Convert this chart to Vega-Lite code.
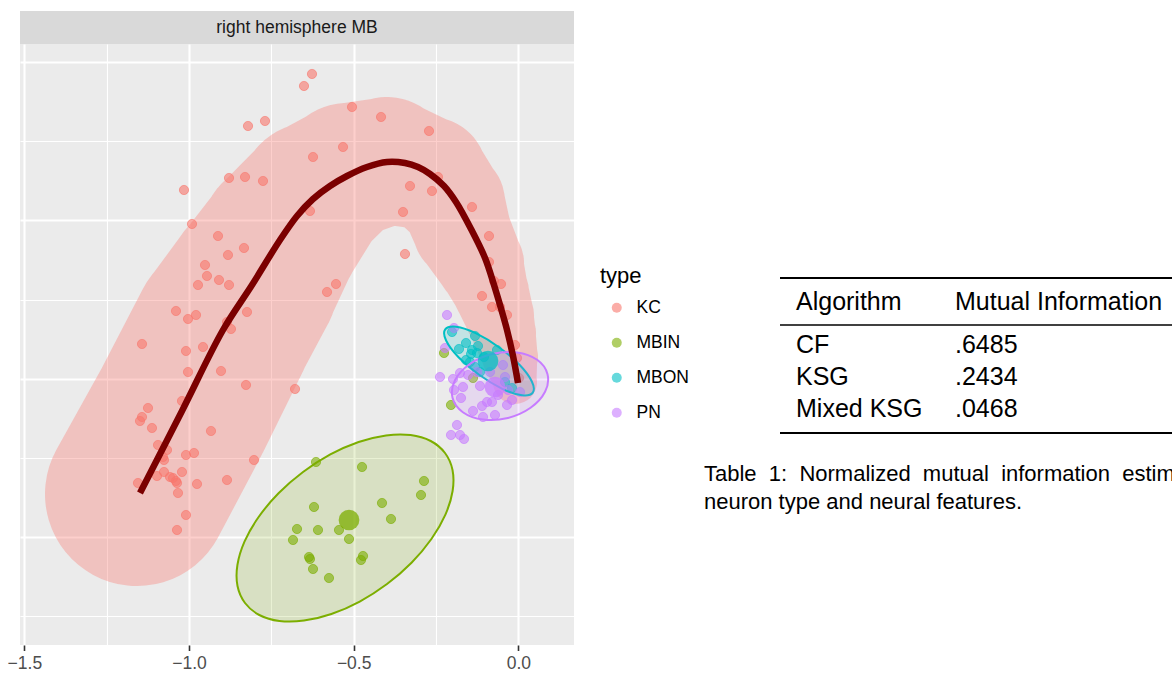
{
  "$schema": "https://vega.github.io/schema/vega-lite/v6.json",
  "background": "white",
  "padding": {"left": 7, "top": 11, "right": 0, "bottom": 0},
  "config": {"font": "Liberation Sans", "view": {"stroke": null}},
  "spacing": 130,
  "datasets": {
    "band": [
      {"i": 0, "x": -1.1579, "y": 0.2716, "spread": 1.1621},
      {"i": 1, "x": -1.0213, "y": 0.7958, "spread": 1.1495},
      {"i": 2, "x": -0.8968, "y": 1.3074, "spread": 1.1369},
      {"i": 3, "x": -0.8087, "y": 1.5979, "spread": 1.0863},
      {"i": 4, "x": -0.7237, "y": 1.8885, "spread": 1.0105},
      {"i": 5, "x": -0.6234, "y": 2.1537, "spread": 0.9348},
      {"i": 6, "x": -0.5202, "y": 2.3116, "spread": 0.859},
      {"i": 7, "x": -0.3987, "y": 2.3748, "spread": 0.8084},
      {"i": 8, "x": -0.2681, "y": 2.2927, "spread": 0.72},
      {"i": 9, "x": -0.1983, "y": 2.1158, "spread": 0.6569},
      {"i": 10, "x": -0.171, "y": 1.939, "spread": 0.619},
      {"i": 11, "x": -0.1163, "y": 1.7306, "spread": 0.5558},
      {"i": 12, "x": -0.0829, "y": 1.5474, "spread": 0.48},
      {"i": 13, "x": -0.0586, "y": 1.4021, "spread": 0.4421},
      {"i": 14, "x": -0.0434, "y": 1.2884, "spread": 0.4042},
      {"i": 15, "x": -0.0252, "y": 1.1369, "spread": 0.3537},
      {"i": 16, "x": -0.01, "y": 0.979, "spread": 0.2779}
    ],
    "curve": [
      {"i": 0, "x": -1.1488, "y": 0.2779},
      {"i": 1, "x": -1.0213, "y": 0.7958},
      {"i": 2, "x": -0.8968, "y": 1.3074},
      {"i": 3, "x": -0.8087, "y": 1.5916},
      {"i": 4, "x": -0.7237, "y": 1.8758},
      {"i": 5, "x": -0.672, "y": 2.0274},
      {"i": 6, "x": -0.6234, "y": 2.1348},
      {"i": 7, "x": -0.5718, "y": 2.2169},
      {"i": 8, "x": -0.5202, "y": 2.28},
      {"i": 9, "x": -0.4595, "y": 2.3369},
      {"i": 10, "x": -0.3987, "y": 2.3685},
      {"i": 11, "x": -0.3441, "y": 2.3621},
      {"i": 12, "x": -0.3046, "y": 2.3369},
      {"i": 13, "x": -0.2681, "y": 2.2927},
      {"i": 14, "x": -0.2256, "y": 2.2169},
      {"i": 15, "x": -0.1892, "y": 2.1158},
      {"i": 16, "x": -0.1436, "y": 1.9453},
      {"i": 17, "x": -0.1011, "y": 1.7621},
      {"i": 18, "x": -0.0738, "y": 1.5916},
      {"i": 19, "x": -0.0556, "y": 1.4653},
      {"i": 20, "x": -0.0343, "y": 1.3074},
      {"i": 21, "x": -0.0161, "y": 1.1432},
      {"i": 22, "x": -0.0009, "y": 0.9727}
    ],
    "pts": [
      {"type": "KC", "x": -0.6265, "y": 2.9243},
      {"type": "KC", "x": -0.6508, "y": 2.8485},
      {"type": "KC", "x": -0.8208, "y": 2.5958},
      {"type": "KC", "x": -0.7692, "y": 2.6274},
      {"type": "KC", "x": -1.0152, "y": 2.1916},
      {"type": "KC", "x": -0.8785, "y": 2.2674},
      {"type": "KC", "x": -0.8299, "y": 2.2737},
      {"type": "KC", "x": -0.7753, "y": 2.2485},
      {"type": "KC", "x": -0.9909, "y": 1.9769},
      {"type": "KC", "x": -0.9119, "y": 1.9011},
      {"type": "KC", "x": -0.8816, "y": 1.7811},
      {"type": "KC", "x": -0.833, "y": 1.8253},
      {"type": "KC", "x": -0.9514, "y": 1.7179},
      {"type": "KC", "x": -0.9454, "y": 1.6485},
      {"type": "KC", "x": -0.9727, "y": 1.5916},
      {"type": "KC", "x": -0.9089, "y": 1.6232},
      {"type": "KC", "x": -0.8785, "y": 1.5916},
      {"type": "KC", "x": -1.0395, "y": 1.4274},
      {"type": "KC", "x": -1.003, "y": 1.3769},
      {"type": "KC", "x": -0.9787, "y": 1.4021},
      {"type": "KC", "x": -0.8239, "y": 1.4211},
      {"type": "KC", "x": -0.8725, "y": 1.3137},
      {"type": "KC", "x": -0.8846, "y": 1.3579},
      {"type": "KC", "x": -1.1427, "y": 1.219},
      {"type": "KC", "x": -0.505, "y": 2.7158},
      {"type": "KC", "x": -0.4169, "y": 2.6527},
      {"type": "KC", "x": -0.2712, "y": 2.5643},
      {"type": "KC", "x": -0.5323, "y": 2.4632},
      {"type": "KC", "x": -0.6234, "y": 2.4},
      {"type": "KC", "x": -0.3289, "y": 2.2169},
      {"type": "KC", "x": -0.2439, "y": 2.2737},
      {"type": "KC", "x": -0.2621, "y": 2.1853},
      {"type": "KC", "x": -0.6326, "y": 2.059},
      {"type": "KC", "x": -0.3501, "y": 2.0527},
      {"type": "KC", "x": -0.1406, "y": 2.0843},
      {"type": "KC", "x": -0.089, "y": 1.9011},
      {"type": "KC", "x": -0.3441, "y": 1.7874},
      {"type": "KC", "x": -0.089, "y": 1.7369},
      {"type": "KC", "x": -0.5536, "y": 1.5979},
      {"type": "KC", "x": -0.5809, "y": 1.5474},
      {"type": "KC", "x": -0.0738, "y": 1.6169},
      {"type": "KC", "x": -0.0525, "y": 1.5979},
      {"type": "KC", "x": -0.1102, "y": 1.5221},
      {"type": "KC", "x": -0.0799, "y": 1.4527},
      {"type": "KC", "x": -0.0556, "y": 1.4527},
      {"type": "KC", "x": -0.0343, "y": 1.4021},
      {"type": "KC", "x": -1.0091, "y": 1.1748},
      {"type": "KC", "x": -0.9575, "y": 1.2},
      {"type": "KC", "x": -1.003, "y": 1.0421},
      {"type": "KC", "x": -0.9028, "y": 1.0484},
      {"type": "KC", "x": -0.8269, "y": 0.96},
      {"type": "KC", "x": -0.6781, "y": 0.9348},
      {"type": "KC", "x": -1.0213, "y": 0.859},
      {"type": "KC", "x": -1.1245, "y": 0.8147},
      {"type": "KC", "x": -1.1427, "y": 0.7579},
      {"type": "KC", "x": -1.1488, "y": 0.7326},
      {"type": "KC", "x": -1.1124, "y": 0.6884},
      {"type": "KC", "x": -0.9332, "y": 0.6695},
      {"type": "KC", "x": -1.0941, "y": 0.5811},
      {"type": "KC", "x": -1.0668, "y": 0.5495},
      {"type": "KC", "x": -1.079, "y": 0.5053},
      {"type": "KC", "x": -1.0759, "y": 0.4863},
      {"type": "KC", "x": -1.0091, "y": 0.5179},
      {"type": "KC", "x": -0.9848, "y": 0.5305},
      {"type": "KC", "x": -0.8026, "y": 0.4863},
      {"type": "KC", "x": -1.0972, "y": 0.3853},
      {"type": "KC", "x": -1.0759, "y": 0.4105},
      {"type": "KC", "x": -1.0577, "y": 0.379},
      {"type": "KC", "x": -1.0486, "y": 0.3726},
      {"type": "KC", "x": -1.0395, "y": 0.3537},
      {"type": "KC", "x": -1.0364, "y": 0.3411},
      {"type": "KC", "x": -1.0213, "y": 0.4105},
      {"type": "KC", "x": -0.9757, "y": 0.3347},
      {"type": "KC", "x": -0.8846, "y": 0.36},
      {"type": "KC", "x": -1.1549, "y": 0.3411},
      {"type": "KC", "x": -1.0334, "y": 0.2779},
      {"type": "KC", "x": -1.0091, "y": 0.1389},
      {"type": "KC", "x": -1.0364, "y": 0.0442},
      {"type": "KC", "x": -0.01, "y": 1.2126},
      {"type": "KC", "x": -0.0039, "y": 1.1305},
      {"type": "KC", "x": 0.0021, "y": 1.0042},
      {"type": "MBIN", "x": -0.6143, "y": 0.4737},
      {"type": "MBIN", "x": -0.4746, "y": 0.4421},
      {"type": "MBIN", "x": -0.2864, "y": 0.3537},
      {"type": "MBIN", "x": -0.2955, "y": 0.2653},
      {"type": "MBIN", "x": -0.6204, "y": 0.1895},
      {"type": "MBIN", "x": -0.4139, "y": 0.2147},
      {"type": "MBIN", "x": -0.3866, "y": 0.1137},
      {"type": "MBIN", "x": -0.672, "y": 0.0505},
      {"type": "MBIN", "x": -0.6083, "y": 0.0442},
      {"type": "MBIN", "x": -0.6842, "y": -0.0189},
      {"type": "MBIN", "x": -0.5445, "y": 0.0442},
      {"type": "MBIN", "x": -0.5141, "y": -0.0126},
      {"type": "MBIN", "x": -0.6356, "y": -0.1263},
      {"type": "MBIN", "x": -0.6326, "y": -0.1389},
      {"type": "MBIN", "x": -0.4716, "y": -0.12},
      {"type": "MBIN", "x": -0.4777, "y": -0.1453},
      {"type": "MBIN", "x": -0.6234, "y": -0.2021},
      {"type": "MBIN", "x": -0.5749, "y": -0.259},
      {"type": "MBIN", "x": -0.2256, "y": 1.1621},
      {"type": "MBIN", "x": -0.2044, "y": 0.8337},
      {"type": "MBIN", "x": -0.1376, "y": 1.0042},
      {"type": "MBON", "x": -0.2013, "y": 1.2948},
      {"type": "MBON", "x": -0.1315, "y": 1.2695},
      {"type": "MBON", "x": -0.1588, "y": 1.2253},
      {"type": "MBON", "x": -0.1406, "y": 1.1811},
      {"type": "MBON", "x": -0.1224, "y": 1.2063},
      {"type": "MBON", "x": -0.1436, "y": 1.1558},
      {"type": "MBON", "x": -0.1254, "y": 1.1621},
      {"type": "MBON", "x": -0.0647, "y": 1.1811},
      {"type": "MBON", "x": -0.1467, "y": 1.1053},
      {"type": "MBON", "x": -0.1315, "y": 1.0737},
      {"type": "MBON", "x": -0.1163, "y": 1.0421},
      {"type": "MBON", "x": -0.0404, "y": 0.979},
      {"type": "MBON", "x": -0.1588, "y": 1.1179},
      {"type": "MBON", "x": -0.1042, "y": 1.1369},
      {"type": "MBON", "x": -0.1801, "y": 1.1874},
      {"type": "MBON", "x": -0.0191, "y": 0.9411},
      {"type": "PN", "x": -0.2165, "y": 1.4021},
      {"type": "PN", "x": -0.1953, "y": 1.32},
      {"type": "PN", "x": -0.2226, "y": 1.1937},
      {"type": "PN", "x": -0.2378, "y": 1.0105},
      {"type": "PN", "x": -0.1983, "y": 0.9979},
      {"type": "PN", "x": -0.177, "y": 1.0358},
      {"type": "PN", "x": -0.1679, "y": 0.9474},
      {"type": "PN", "x": -0.1953, "y": 0.9284},
      {"type": "PN", "x": -0.174, "y": 0.8779},
      {"type": "PN", "x": -0.1163, "y": 0.9537},
      {"type": "PN", "x": -0.1254, "y": 1.0421},
      {"type": "PN", "x": -0.1527, "y": 1.0232},
      {"type": "PN", "x": -0.1376, "y": 0.7958},
      {"type": "PN", "x": -0.1102, "y": 0.8274},
      {"type": "PN", "x": -0.095, "y": 0.8526},
      {"type": "PN", "x": -0.0799, "y": 0.8526},
      {"type": "PN", "x": -0.1072, "y": 0.7579},
      {"type": "PN", "x": -0.0708, "y": 0.7705},
      {"type": "PN", "x": -0.0343, "y": 0.8337},
      {"type": "PN", "x": -0.0191, "y": 0.8653},
      {"type": "PN", "x": -0.0465, "y": 1.0863},
      {"type": "PN", "x": -0.0404, "y": 1.0105},
      {"type": "PN", "x": -0.0313, "y": 0.9284},
      {"type": "PN", "x": -0.1862, "y": 0.7074},
      {"type": "PN", "x": -0.2044, "y": 0.6442},
      {"type": "PN", "x": -0.177, "y": 0.6442},
      {"type": "PN", "x": -0.1649, "y": 0.619},
      {"type": "PN", "x": -0.0616, "y": 0.8969},
      {"type": "PN", "x": 0.0052, "y": 0.9158},
      {"type": "PN", "x": -0.0859, "y": 1.0421}
    ],
    "ell": [
      {"type": "MBIN", "i": 0, "x": -0.2226, "y": 0.5305},
      {"type": "MBIN", "i": 1, "x": -0.1998, "y": 0.4232},
      {"type": "MBIN", "i": 2, "x": -0.1995, "y": 0.2905},
      {"type": "MBIN", "i": 3, "x": -0.2214, "y": 0.1415},
      {"type": "MBIN", "i": 4, "x": -0.2639, "y": -0.0126},
      {"type": "MBIN", "i": 5, "x": -0.3243, "y": -0.1623},
      {"type": "MBIN", "i": 6, "x": -0.3987, "y": -0.2968},
      {"type": "MBIN", "i": 7, "x": -0.4816, "y": -0.4074},
      {"type": "MBIN", "i": 8, "x": -0.5676, "y": -0.4863},
      {"type": "MBIN", "i": 9, "x": -0.6508, "y": -0.528},
      {"type": "MBIN", "i": 10, "x": -0.7255, "y": -0.5305},
      {"type": "MBIN", "i": 11, "x": -0.7865, "y": -0.4926},
      {"type": "MBIN", "i": 12, "x": -0.8299, "y": -0.4168},
      {"type": "MBIN", "i": 13, "x": -0.8527, "y": -0.3095},
      {"type": "MBIN", "i": 14, "x": -0.853, "y": -0.1768},
      {"type": "MBIN", "i": 15, "x": -0.8312, "y": -0.0278},
      {"type": "MBIN", "i": 16, "x": -0.7886, "y": 0.1263},
      {"type": "MBIN", "i": 17, "x": -0.7282, "y": 0.276},
      {"type": "MBIN", "i": 18, "x": -0.6538, "y": 0.4105},
      {"type": "MBIN", "i": 19, "x": -0.5709, "y": 0.5211},
      {"type": "MBIN", "i": 20, "x": -0.485, "y": 0.6},
      {"type": "MBIN", "i": 21, "x": -0.4018, "y": 0.6417},
      {"type": "MBIN", "i": 22, "x": -0.3271, "y": 0.6442},
      {"type": "MBIN", "i": 23, "x": -0.266, "y": 0.6063},
      {"type": "MBON", "i": 0, "x": 0.044, "y": 0.912},
      {"type": "MBON", "i": 1, "x": 0.0111, "y": 0.895},
      {"type": "MBON", "i": 2, "x": -0.0486, "y": 0.936},
      {"type": "MBON", "i": 3, "x": -0.119, "y": 1.0244},
      {"type": "MBON", "i": 4, "x": -0.1816, "y": 1.1356},
      {"type": "MBON", "i": 5, "x": -0.2193, "y": 1.2411},
      {"type": "MBON", "i": 6, "x": -0.222, "y": 1.3112},
      {"type": "MBON", "i": 7, "x": -0.189, "y": 1.3282},
      {"type": "MBON", "i": 8, "x": -0.1294, "y": 1.2872},
      {"type": "MBON", "i": 9, "x": -0.0589, "y": 1.1988},
      {"type": "MBON", "i": 10, "x": 0.0036, "y": 1.0876},
      {"type": "MBON", "i": 11, "x": 0.0411, "y": 0.9821},
      {"type": "PN", "i": 0, "x": 0.0887, "y": 1.0282},
      {"type": "PN", "i": 1, "x": 0.0812, "y": 0.9171},
      {"type": "PN", "i": 2, "x": 0.0372, "y": 0.816},
      {"type": "PN", "i": 3, "x": -0.0316, "y": 0.7516},
      {"type": "PN", "i": 4, "x": -0.107, "y": 0.7415},
      {"type": "PN", "i": 5, "x": -0.1684, "y": 0.7882},
      {"type": "PN", "i": 6, "x": -0.1998, "y": 0.8792},
      {"type": "PN", "i": 7, "x": -0.1924, "y": 0.9903},
      {"type": "PN", "i": 8, "x": -0.1483, "y": 1.0914},
      {"type": "PN", "i": 9, "x": -0.0796, "y": 1.1558},
      {"type": "PN", "i": 10, "x": -0.0041, "y": 1.1659},
      {"type": "PN", "i": 11, "x": 0.0572, "y": 1.1192}
    ],
    "cent": [
      {"type": "MBIN", "x": -0.5141, "y": 0.1074},
      {"type": "MBON", "x": -0.092, "y": 1.1116},
      {"type": "PN", "x": -0.0708, "y": 0.9474}
    ],
    "tab": [
      {"col": "Algorithm", "row": 0, "label": "Algorithm"},
      {"col": "Mutual Information", "row": 0, "label": "Mutual Information"},
      {"col": "Algorithm", "row": 1, "label": "CF"},
      {"col": "Mutual Information", "row": 1, "label": ".6485"},
      {"col": "Algorithm", "row": 2, "label": "KSG"},
      {"col": "Mutual Information", "row": 2, "label": ".2434"},
      {"col": "Algorithm", "row": 3, "label": "Mixed KSG"},
      {"col": "Mutual Information", "row": 3, "label": ".0468"}
    ],
    "rthick": [{"row": -0.5}, {"row": 3.5}],
    "rthin": [{"row": 0.5}]
  },
  "hconcat": [
    {
      "bounds": "flush",
      "spacing": 0,
      "vconcat": [
        {
          "width": 554,
          "height": 33,
          "view": {"fill": "#D9D9D9", "stroke": null},
          "data": {"values": [{"panel": "right hemisphere MB"}]},
          "mark": {"type": "text", "fontSize": 17.5, "color": "#1A1A1A", "align": "center", "baseline": "middle"},
          "encoding": {"text": {"field": "panel"}}
        },
        {
          "width": 554,
          "height": 601,
          "view": {"fill": "#EBEBEB", "stroke": null},
          "resolve": {"axis": {"x": "independent", "y": "independent"}},
          "layer": [
            {
              "data": {"name": "band"},
              "mark": {"type": "trail", "color": "#F8766D", "opacity": 0.35},
              "encoding": {
                "x": {"field": "x", "type": "quantitative", "scale": {"domain": [-1.5132, 0.1691], "nice": false, "zero": false},
                  "axis": {"orient": "top", "grid": true, "gridColor": "white", "gridWidth": 1.1, "values": [-1.25, -0.75, -0.25], "labels": false, "ticks": false, "domain": false, "title": null, "minExtent": 0, "maxExtent": 0}},
                "y": {"field": "y", "type": "quantitative", "scale": {"domain": [-0.6821, 3.1137], "nice": false, "zero": false},
                  "axis": {"orient": "right", "grid": true, "gridColor": "white", "gridWidth": 1.1, "values": [-0.5, 0.5, 1.5, 2.5], "labels": false, "ticks": false, "domain": false, "title": null, "minExtent": 0, "maxExtent": 0}},
                "size": {"field": "spread", "type": "quantitative", "scale": {"type": "linear", "domain": [0, 1], "range": [0, 158.33]}, "legend": null},
                "order": {"field": "i"}
              }
            },
            {
              "data": {"name": "pts"},
              "mark": {"type": "circle", "size": 85, "fillOpacity": 0.6, "strokeOpacity": 0.6, "strokeWidth": 1},
              "encoding": {
                "x": {"field": "x", "type": "quantitative", "scale": {"domain": [-1.5132, 0.1691], "nice": false, "zero": false},
                  "axis": {"orient": "bottom", "grid": true, "gridColor": "white", "gridWidth": 2.1, "values": [-1.5, -1, -0.5, 0], "format": ".1f", "labelFontSize": 17.5, "labelColor": "#4D4D4D", "labelPadding": 4, "tickColor": "#333333", "tickSize": 5.5, "tickWidth": 1.6, "domain": false, "title": null}},
                "y": {"field": "y", "type": "quantitative", "scale": {"domain": [-0.6821, 3.1137], "nice": false, "zero": false},
                  "axis": {"orient": "left", "grid": true, "gridColor": "white", "gridWidth": 2.1, "values": [0, 1, 2, 3], "labels": false, "ticks": false, "domain": false, "title": null, "minExtent": 0, "maxExtent": 0}},
                "color": {"field": "type", "type": "nominal",
                  "scale": {"domain": ["KC", "MBIN", "MBON", "PN"], "range": ["#F8766D", "#7CAE00", "#00BFC4", "#C77CFF"]},
                  "legend": {"orient": "none", "legendX": 580, "legendY": 255, "title": "type", "titleFontSize": 22, "titleFontWeight": "normal", "titleColor": "black", "titlePadding": 11, "labelFontSize": 17.5, "labelColor": "black", "symbolType": "circle", "symbolSize": 100, "symbolOpacity": 0.6, "symbolStrokeWidth": 0, "symbolOffset": 8, "labelOffset": 11, "rowPadding": 16, "padding": 0}},
                "stroke": {"field": "type", "type": "nominal", "scale": {"domain": ["KC", "MBIN", "MBON", "PN"], "range": ["#F8766D", "#7CAE00", "#00BFC4", "#C77CFF"]}, "legend": null}
              }
            },
            {
              "data": {"name": "ell"},
              "mark": {"type": "line", "interpolate": "cardinal-closed", "strokeWidth": 2, "fillOpacity": 0.17},
              "encoding": {
                "x": {"field": "x", "type": "quantitative", "scale": {"domain": [-1.5132, 0.1691], "nice": false, "zero": false}, "axis": null},
                "y": {"field": "y", "type": "quantitative", "scale": {"domain": [-0.6821, 3.1137], "nice": false, "zero": false}, "axis": null},
                "stroke": {"field": "type", "type": "nominal", "legend": null},
                "fill": {"field": "type", "type": "nominal", "scale": {"domain": ["KC", "MBIN", "MBON", "PN"], "range": ["#F8766D", "#7CAE00", "#00BFC4", "#C77CFF"]}, "legend": null},
                "order": {"field": "i"}
              }
            },
            {
              "data": {"name": "cent"},
              "mark": {"type": "circle", "size": 430, "opacity": 0.75},
              "encoding": {
                "x": {"field": "x", "type": "quantitative", "scale": {"domain": [-1.5132, 0.1691], "nice": false, "zero": false}, "axis": null},
                "y": {"field": "y", "type": "quantitative", "scale": {"domain": [-0.6821, 3.1137], "nice": false, "zero": false}, "axis": null},
                "color": {"field": "type", "type": "nominal", "legend": null}
              }
            },
            {
              "data": {"name": "curve"},
              "mark": {"type": "line", "color": "#7B0000", "strokeWidth": 6.5, "strokeCap": "butt", "interpolate": "catmull-rom"},
              "encoding": {
                "x": {"field": "x", "type": "quantitative", "scale": {"domain": [-1.5132, 0.1691], "nice": false, "zero": false}, "axis": null},
                "y": {"field": "y", "type": "quantitative", "scale": {"domain": [-0.6821, 3.1137], "nice": false, "zero": false}, "axis": null},
                "order": {"field": "i"}
              }
            }
          ]
        }
      ]
    },
    {
      "width": 420,
      "height": 429,
      "view": {"stroke": null},
      "title": {
        "text": ["Table\u00a0 1:\u00a0 Normalized\u00a0 mutual\u00a0 information\u00a0 estimates\u00a0 between", "neuron type and neural features."],
        "orient": "bottom", "anchor": "start", "frame": "group", "dx": -76, "offset": 24,
        "fontSize": 22, "fontWeight": "normal", "color": "black", "lineHeight": 28, "baseline": "top"
      },
      "layer": [
        {
          "data": {"name": "rthick"},
          "mark": {"type": "rule", "color": "black", "strokeWidth": 2.2},
          "encoding": {"y": {"field": "row", "type": "quantitative", "scale": {"domain": [-0.5, 0.5, 1, 3, 3.5], "range": [267, 314, 334, 398, 422], "nice": false, "zero": false}, "axis": null}}
        },
        {
          "data": {"name": "rthin"},
          "mark": {"type": "rule", "color": "black", "strokeWidth": 1.4},
          "encoding": {"y": {"field": "row", "type": "quantitative", "axis": null}}
        },
        {
          "data": {"name": "tab"},
          "mark": {"type": "text", "align": "left", "baseline": "middle", "fontSize": 25, "color": "black"},
          "encoding": {
            "x": {"field": "col", "type": "nominal", "scale": {"domain": ["Algorithm", "Mutual Information"], "range": [16, 175], "padding": 0}, "axis": null},
            "y": {"field": "row", "type": "quantitative", "axis": null},
            "text": {"field": "label"}
          }
        }
      ]
    }
  ]
}
